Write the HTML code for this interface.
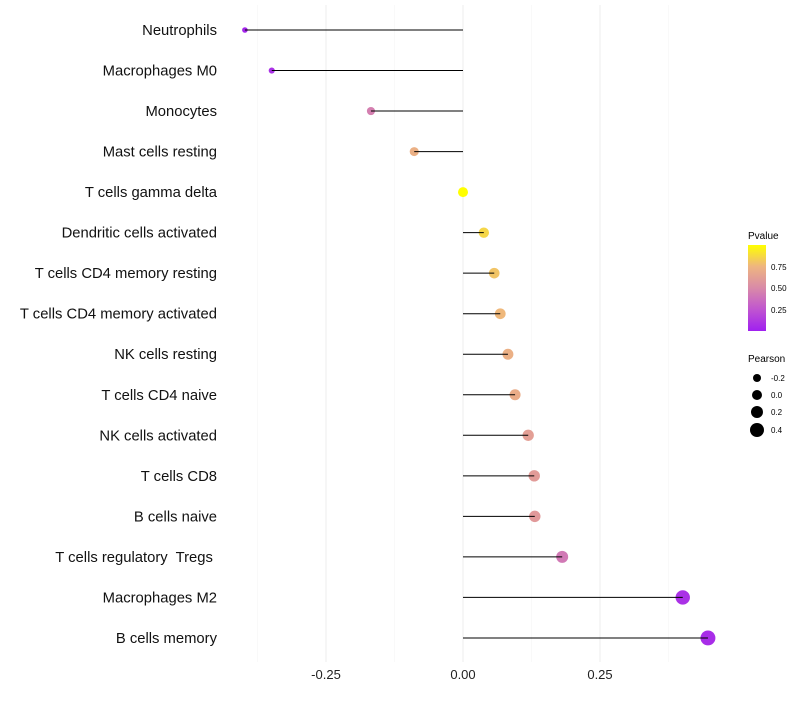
<!DOCTYPE html>
<html><head><meta charset="utf-8"><style>
body{margin:0;background:#fff;font-family:"Liberation Sans",sans-serif}
text{white-space:pre}
</style></head><body>
<svg id="chart" width="800" height="700" xmlns="http://www.w3.org/2000/svg" font-family="Liberation Sans, sans-serif">
<defs><linearGradient id="pg" x1="0" y1="1" x2="0" y2="0">
<stop offset="0" stop-color="#a020f0"/><stop offset="0.25" stop-color="#c055d0"/><stop offset="0.5" stop-color="#d98aa8"/><stop offset="0.75" stop-color="#eeb580"/><stop offset="1" stop-color="#ffff00"/></linearGradient></defs>
<g id="grid"></g><g id="marks"></g><g id="labels"></g><g id="xaxis"></g>
<g>
<text x="748" y="239" font-size="10">Pvalue</text>
<rect x="748" y="245" width="18" height="86" fill="url(#pg)"/>
<text x="771" y="270" font-size="8">0.75</text><text x="771" y="291" font-size="8">0.50</text><text x="771" y="313" font-size="8">0.25</text>
</g>
<g>
<text x="748" y="362" font-size="10">Pearson</text>
<circle cx="757" cy="378" r="4"/><text x="771" y="381" font-size="8">-0.2</text>
<circle cx="757" cy="395" r="5"/><text x="771" y="398" font-size="8">0.0</text>
<circle cx="757" cy="412" r="6"/><text x="771" y="415" font-size="8">0.2</text>
<circle cx="757" cy="430" r="7"/><text x="771" y="433" font-size="8">0.4</text>
</g>
</svg>
<script>
const categories=["Neutrophils","Macrophages M0","Monocytes","Mast cells resting","T cells gamma delta","Dendritic cells activated","T cells CD4 memory resting","T cells CD4 memory activated","NK cells resting","T cells CD4 naive","NK cells activated","T cells CD8","B cells naive","T cells regulatory  Tregs ","Macrophages M2","B cells memory"];
const pearson=[-0.398,-0.349,-0.168,-0.089,0.0,0.038,0.057,0.068,0.082,0.095,0.119,0.130,0.131,0.181,0.401,0.447];
const pvalues=[0.03,0.08,0.45,0.72,1.0,0.86,0.8,0.76,0.72,0.7,0.62,0.6,0.59,0.42,0.08,0.06];
const xTicks=[-0.25,0,0.25];
const xTickLabels=["-0.25","0.00","0.25"];
const NS="http://www.w3.org/2000/svg";
const x=v=>463+v*548;
const y=i=>30+i*40.53;
const stops=[[0,[160,32,240]],[0.25,[192,85,208]],[0.5,[217,138,168]],[0.75,[238,181,128]],[1,[255,255,0]]];
function col(p){for(let k=1;k<stops.length;k++){if(p<=stops[k][0]){const a=stops[k-1],b=stops[k],t=(p-a[0])/(b[0]-a[0]);return "rgb("+a[1].map((c,j)=>Math.round(c+(b[1][j]-c)*t)).join(",")+")";}}return "rgb(255,255,0)";}
function mk(t,at,par){const e=document.createElementNS(NS,t);for(const k in at)e.setAttribute(k,at[k]);document.getElementById(par).appendChild(e);return e;}
[-0.375,-0.125,0.125,0.375].forEach(v=>{const g=mk("line",{x1:x(v),x2:x(v),y1:5,y2:662,stroke:"#f5f5f5","stroke-width":0.6},"grid");

});
xTicks.forEach((v,i)=>{const g=mk("line",{x1:x(v),x2:x(v),y1:5,y2:662,stroke:"#ededed","stroke-width":1},"grid");


const t=mk("text",{x:x(v),y:679,"font-size":13,"text-anchor":"middle",fill:"#222"},"xaxis");t.textContent=xTickLabels[i];

});
categories.forEach((c,i)=>{
const t=mk("text",{x:217,y:y(i)+5,"font-size":14.8,"text-anchor":"end",fill:"#111"},"labels");t.textContent=c;


const p=mk("circle",{cx:x(pearson[i]),cy:y(i),r:Math.max(1.5,5+5.5*pearson[i]),fill:col(pvalues[i])},"marks");


const l=mk("line",{x1:x(0),x2:x(pearson[i]),y1:y(i),y2:y(i),stroke:"#000","stroke-width":1},"marks");


});
</script>
</body></html>
